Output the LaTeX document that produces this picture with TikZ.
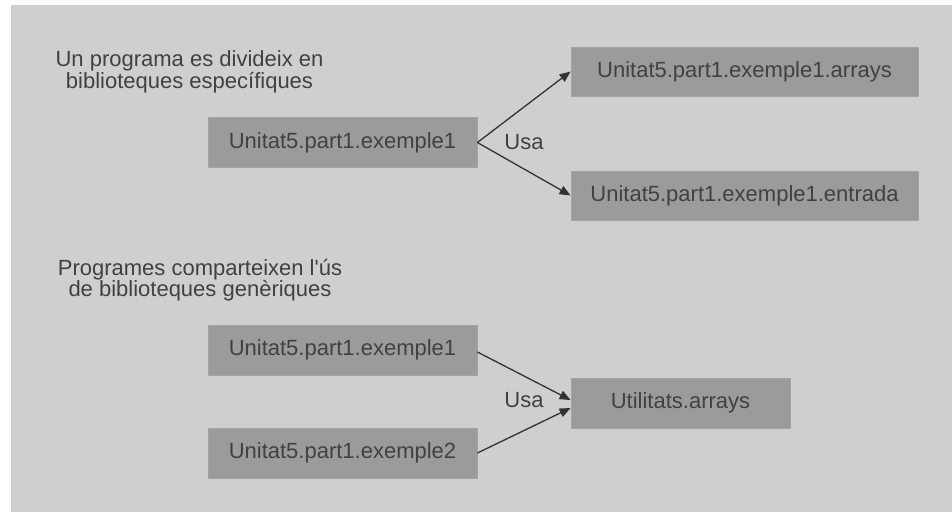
\documentclass[tikz,border=0pt]{standalone}
\usepackage{fontspec}
\setmainfont{Liberation Sans}
\usetikzlibrary{arrows.meta}
\definecolor{bgc}{HTML}{CFCFCF}
\definecolor{boxc}{HTML}{9B9B9B}
\definecolor{boxe}{HTML}{A3A3A3}
\definecolor{txt}{HTML}{414141}
\definecolor{arr}{HTML}{333333}
\tikzset{
  libbox/.style={rectangle, fill=boxc, draw=boxe, line width=0.8pt, inner sep=0pt,
    text=txt, font=\fontsize{22pt}{26pt}\selectfont},
  lbl/.style={inner sep=0pt, text=txt, font=\fontsize{22pt}{26pt}\selectfont},
  heading/.style={inner sep=0pt, text=txt, align=center, font=\fontsize{22pt}{21.5pt}\selectfont},
  usearrow/.style={draw=arr, line width=1.3pt, -{Triangle[length=11pt,width=9pt]}}
}
\begin{document}
\begin{tikzpicture}[x=1pt,y=-1pt]
\useasboundingbox (0,0) rectangle (952,512);
\fill[white] (0,0) rectangle (952,512);
\fill[bgc] (11,5) rectangle (952,512);

\node[heading] (h1) at (189.5,72) {Un programa es divideix en\\biblioteques específiques};
\node[heading] (h2) at (200,280) {Programes comparteixen l\textquotesingle ús\\de biblioteques genèriques};

\node[libbox, minimum width=269pt, minimum height=50pt] (A) at (342.5,142.5) {Unitat5.part1.exemple1};
\node[libbox, minimum width=347pt, minimum height=49pt] (B) at (744.5,71.5) {Unitat5.part1.exemple1.arrays};
\node[libbox, minimum width=347pt, minimum height=49pt] (C) at (744.5,195.5) {Unitat5.part1.exemple1.entrada};

\node[libbox, minimum width=269pt, minimum height=50pt] (D) at (342.5,350) {Unitat5.part1.exemple1};
\node[libbox, minimum width=269pt, minimum height=50pt] (E) at (342.5,453) {Unitat5.part1.exemple2};
\node[libbox, minimum width=219pt, minimum height=50pt] (F) at (680.5,403) {Utilitats.arrays};

\node[lbl] (u1) at (524,142.5) {Usa};
\node[lbl] (u2) at (524,400.5) {Usa};

\coordinate (F1) at ([yshift=3pt]F.west);
\coordinate (F2) at ([yshift=-5pt]F.west);
\coordinate (D1) at ([yshift=-2pt]D.east);

\draw[usearrow] (A.east) -- (B.west);
\draw[usearrow] (A.east) -- (C.west);
\draw[usearrow] (D1) -- (F1);
\draw[usearrow] (E.east) -- (F2);
\end{tikzpicture}
\end{document}
